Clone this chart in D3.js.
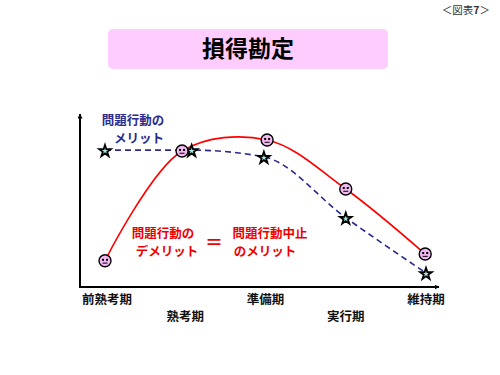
<!DOCTYPE html>
<html>
<head>
<meta charset="utf-8">
<title>損得勘定</title>
<script src="https://cdn.jsdelivr.net/npm/d3@7"></script>
<style>
  body { margin: 0; background: #fff; }
  text { font-family: "Noto Sans CJK JP", "Noto Sans", sans-serif; }
</style>
</head>
<body>
<div id="chart"></div>
<script>
// stages along the x axis
var stages = ["前熟考期", "熟考期", "準備期", "実行期", "維持期"];
// position of each stage label row (0 = upper, 1 = lower)
var stageRow = [0, 1, 0, 1, 0];

// red curve: demerit of problem behaviour (= merit of stopping it)
var demeritX = [0, 0.96, 2.02, 3.0, 3.99];
var demeritY = [1.55, 8.05, 8.7, 5.8, 1.95];

// dashed curve: merit of problem behaviour
var meritX = [0, 1.08, 1.98, 3.0, 4.0];
var meritY = [8.1, 8.1, 7.7, 4.1, 0.83];

var width = 500, height = 375;

var svg = d3.select("#chart").append("svg")
    .attr("width", width)
    .attr("height", height);

// figure number top right
var fig = svg.append("text")
    .attr("x", 490).attr("y", 14)
    .attr("text-anchor", "end")
    .attr("font-size", 10.5)
    .attr("fill", "#333");
fig.append("tspan").text("＜図表");
fig.append("tspan").attr("font-weight", "bold").text("7");
fig.append("tspan").text("＞");

// title box
svg.append("rect")
    .attr("x", 108).attr("y", 29)
    .attr("width", 280).attr("height", 40)
    .attr("rx", 5)
    .attr("fill", "#ffccff");
svg.append("text")
    .attr("x", 248).attr("y", 57)
    .attr("text-anchor", "middle")
    .attr("font-size", 23)
    .attr("font-weight", "bold")
    .text("損得勘定");

// scales
var x = d3.scaleLinear().domain([0, 4]).range([105, 426]);
var y = d3.scaleLinear().domain([0, 10]).range([287, 118]);

// arrow marker
var defs = svg.append("defs");
defs.append("marker")
    .attr("id", "arr")
    .attr("viewBox", "0 0 10 10")
    .attr("refX", 9).attr("refY", 5)
    .attr("markerWidth", 5).attr("markerHeight", 5)
    .attr("markerUnits", "userSpaceOnUse")
    .attr("orient", "auto")
  .append("path")
    .attr("d", "M0,0L10,5L0,10z")
    .attr("fill", "#000");

// axes
svg.append("line")
    .attr("x1", 80).attr("y1", y(0))
    .attr("x2", 80).attr("y2", 114)
    .attr("stroke", "#000").attr("stroke-width", 2)
    .attr("marker-end", "url(#arr)");
svg.append("line")
    .attr("x1", 79).attr("y1", y(0))
    .attr("x2", 439).attr("y2", y(0))
    .attr("stroke", "#000").attr("stroke-width", 2)
    .attr("marker-end", "url(#arr)");

// stage labels
svg.selectAll(".stage")
    .data(stages)
  .enter().append("text")
    .attr("class", "stage")
    .attr("x", function(d, i) { return x(i) + (i == 0 ? 2 : 0); })
    .attr("y", function(d, i) { return stageRow[i] ? 321 : 304; })
    .attr("text-anchor", "middle")
    .attr("font-size", 12.5)
    .attr("font-weight", "bold")
    .attr("fill", "#111")
    .text(function(d) { return d; });

var merit = meritX.map(function(v, i) { return [v, meritY[i]]; });
var demerit = demeritX.map(function(v, i) { return [v, demeritY[i]]; });

var line = d3.line()
    .x(function(d) { return x(d[0]); })
    .y(function(d) { return y(d[1]); });

// dashed merit line
svg.append("path")
    .datum(merit)
    .attr("d", line.curve(d3.curveMonotoneX))
    .attr("fill", "none")
    .attr("stroke", "#2b2b8c")
    .attr("stroke-width", 1.6)
    .attr("stroke-dasharray", "6,4");

// red demerit line
svg.append("path")
    .datum(demerit)
    .attr("d", line.curve(d3.curveCatmullRom.alpha(0.5)))
    .attr("fill", "none")
    .attr("stroke", "#ff0000")
    .attr("stroke-width", 1.6);

// star markers
var star = d3.symbol().type(d3.symbolStar).size(42);
svg.selectAll(".star")
    .data(merit)
  .enter().append("path")
    .attr("class", "star")
    .attr("d", star)
    .attr("transform", function(d) { return "translate(" + x(d[0]) + "," + (y(d[1]) + 1) + ")"; })
    .attr("fill", "#a8e8e0")
    .attr("stroke", "#000")
    .attr("stroke-width", 1.8);

// face markers
var faces = svg.selectAll(".face")
    .data(demerit)
  .enter().append("g")
    .attr("class", "face")
    .attr("transform", function(d) { return "translate(" + x(d[0]) + "," + y(d[1]) + ")"; });
faces.append("circle")
    .attr("r", 6)
    .attr("fill", "#f2b8f2")
    .attr("stroke", "#000")
    .attr("stroke-width", 1.4);
faces.append("rect").attr("x", -3).attr("y", -2).attr("width", 2).attr("height", 2).attr("fill", "#000");
faces.append("rect").attr("x", 1).attr("y", -2).attr("width", 2).attr("height", 2).attr("fill", "#000");
faces.append("path").attr("d", "M-2.5,2.3L2.5,2.3").attr("stroke", "#000").attr("stroke-width", 1);

// annotations
var blue = svg.append("text")
    .attr("font-size", 12.5).attr("font-weight", "bold").attr("fill", "#2b2b8c")
    .attr("text-anchor", "middle");
blue.append("tspan").attr("x", 133).attr("y", 125).text("問題行動の");
blue.append("tspan").attr("x", 139).attr("y", 143).text("メリット");

var red1 = svg.append("text")
    .attr("font-size", 12.5).attr("font-weight", "bold").attr("fill", "#ee0000")
    .attr("text-anchor", "middle");
red1.append("tspan").attr("x", 163).attr("y", 238).text("問題行動の");
red1.append("tspan").attr("x", 167).attr("y", 256).text("デメリット");

svg.append("text")
    .attr("x", 214).attr("y", 249)
    .attr("text-anchor", "middle")
    .attr("font-size", 18).attr("font-weight", "bold").attr("fill", "#ee0000")
    .text("＝");

var red2 = svg.append("text")
    .attr("font-size", 12.5).attr("font-weight", "bold").attr("fill", "#ee0000")
    .attr("text-anchor", "middle");
red2.append("tspan").attr("x", 270).attr("y", 238).text("問題行動中止");
red2.append("tspan").attr("x", 265).attr("y", 256).text("のメリット");
</script>
</body>
</html>
